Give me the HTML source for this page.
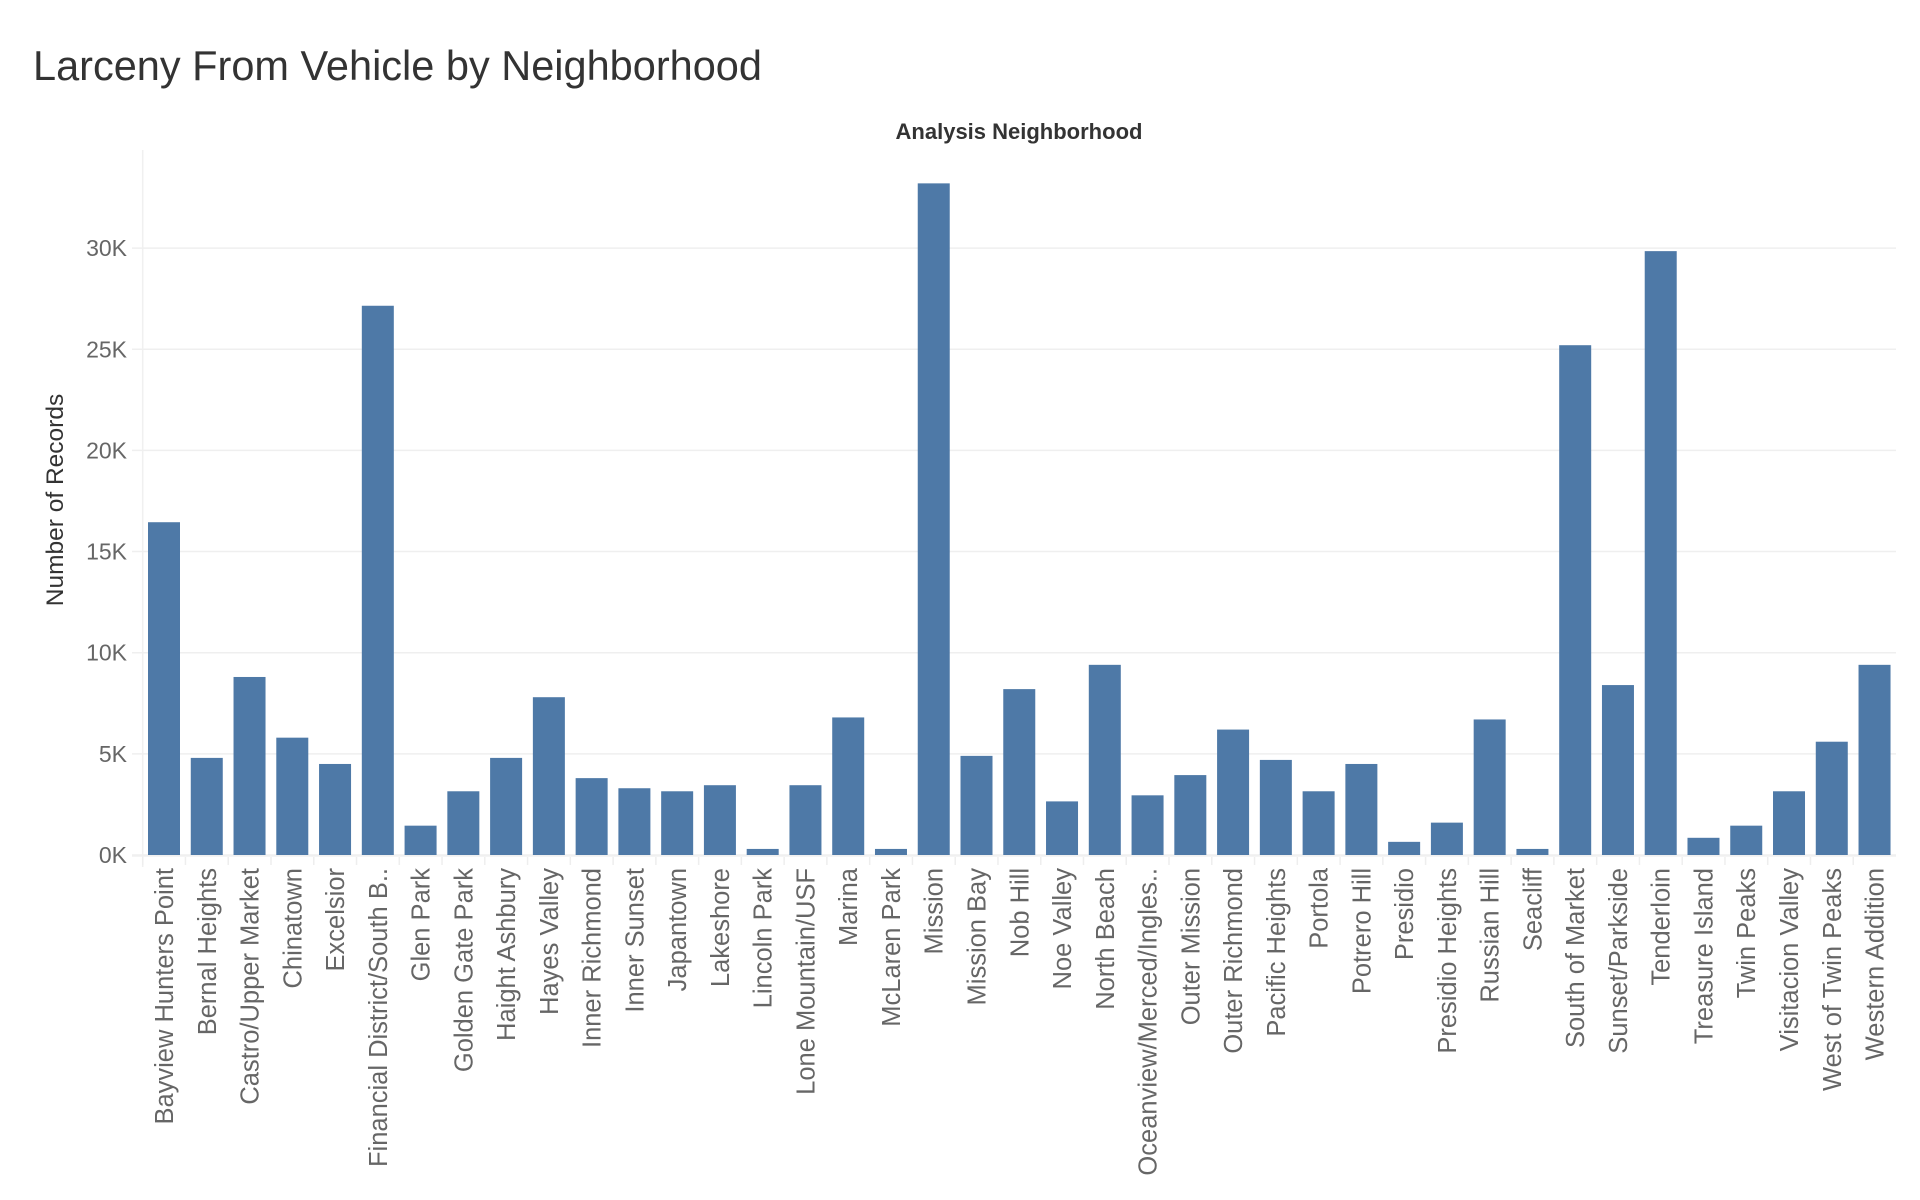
<!DOCTYPE html>
<html><head><meta charset="utf-8"><style>
html,body{margin:0;padding:0;background:#fff;width:1920px;height:1200px;overflow:hidden}
svg{display:block;font-family:"Liberation Sans","DejaVu Sans",sans-serif}
</style></head><body>
<svg id="chart" width="1920" height="1200">
<text x="33" y="80" font-size="41.5" fill="#333">Larceny From Vehicle by Neighborhood</text>
<text x="1019" y="139" font-size="22" fill="#333" text-anchor="middle" font-weight="bold">Analysis Neighborhood</text>
<text transform="translate(63,500) rotate(-90)" font-size="24.5" fill="#333" text-anchor="middle">Number of Records</text>
<g id="grid"></g><g id="bars"></g><g id="xlabels"></g>
</svg>
<script>
const categories=["Bayview Hunters Point","Bernal Heights","Castro/Upper Market","Chinatown","Excelsior","Financial District/South B..","Glen Park","Golden Gate Park","Haight Ashbury","Hayes Valley","Inner Richmond","Inner Sunset","Japantown","Lakeshore","Lincoln Park","Lone Mountain/USF","Marina","McLaren Park","Mission","Mission Bay","Nob Hill","Noe Valley","North Beach","Oceanview/Merced/Ingles..","Outer Mission","Outer Richmond","Pacific Heights","Portola","Potrero Hill","Presidio","Presidio Heights","Russian Hill","Seacliff","South of Market","Sunset/Parkside","Tenderloin","Treasure Island","Twin Peaks","Visitacion Valley","West of Twin Peaks","Western Addition"];
const values=[16450,4800,8800,5800,4500,27150,1450,3150,4800,7800,3800,3300,3150,3450,300,3450,6800,300,33200,4900,8200,2650,9400,2950,3950,6200,4700,3150,4500,650,1600,6700,300,25200,8400,29850,850,1450,3150,5600,9400];
const yTicks=[0,5000,10000,15000,20000,25000,30000];
const yTickLabels=["0K","5K","10K","15K","20K","25K","30K"];
const NS="http://www.w3.org/2000/svg";
const P={left:142.7,right:1896,base:855,pxPer:20.23/1000,plotTop:150};
const band=(P.right-P.left)/categories.length;
const yScale=v=>P.base-v*P.pxPer;
const xScale=i=>P.left+i*band;
function mk(t,a,p){const e=document.createElementNS(NS,t);for(const k in a)e.setAttribute(k,a[k]);p.appendChild(e);return e;}
const grid=document.getElementById('grid');
const ax=mk('line',{x1:P.left,y1:P.plotTop,x2:P.left,y2:P.base+12,stroke:'#f0f0f0','stroke-width':1.5},grid);


yTicks.forEach((t,i)=>{
 const g=mk('line',{x1:132,y1:yScale(t),x2:P.right,y2:yScale(t),stroke:'#efefef','stroke-width':1.5},grid);
 
 
 const l=mk('text',{x:127,y:yScale(t)+8,'font-size':23,fill:'#666','text-anchor':'end'},grid);
 l.textContent=yTickLabels[i];
 
 
});
const bars=document.getElementById('bars'),xl=document.getElementById('xlabels');
categories.forEach((c,i)=>{
 const bx=xScale(i)+5.3,bw=32;
 const r=mk('rect',{x:bx,y:yScale(values[i]),width:bw,height:P.base-yScale(values[i]),fill:'#4e79a7'},bars);
 
 
 const tk=mk('line',{x1:xScale(i),y1:P.base+2,x2:xScale(i),y2:P.base+10,stroke:'#eee','stroke-width':1.5},grid);
 
 
 const cx=bx+bw/2+9;
 const t=mk('text',{transform:`translate(${cx},868) rotate(-90)`,'font-size':25.5,fill:'#666','text-anchor':'end'},xl);
 t.textContent=c;
 
 
});
const bl=mk('line',{x1:132,y1:P.base+1,x2:P.right,y2:P.base+1,stroke:'#f0f0f0','stroke-width':1.5},grid);


</script>
</body></html>
